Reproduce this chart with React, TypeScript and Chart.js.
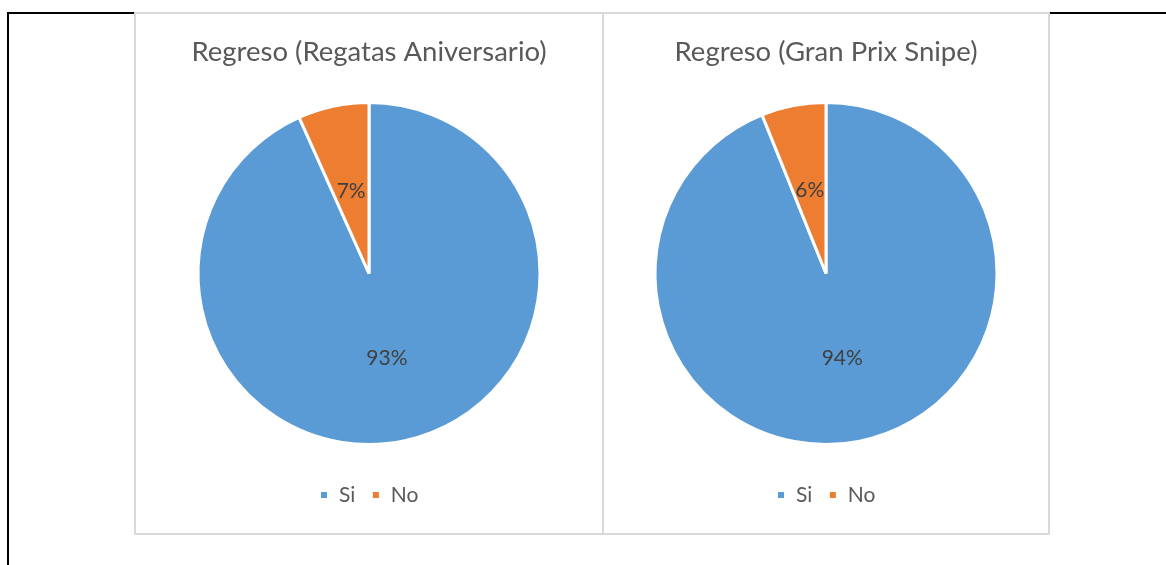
import React, { useEffect, useRef } from "react";
import { Chart, registerables } from "chart.js";

Chart.register(...registerables);

const CATEGORIES = ["Si", "No"];
const TITLE_LEFT = "Regreso (Regatas Aniversario)";
const TITLE_RIGHT = "Regreso (Gran Prix Snipe)";
const VALUES_LEFT = [93.3, 6.7];
const VALUES_RIGHT = [93.9, 6.1];
const COLORS = ["#5B9BD5", "#ED7D31"];

const FONT = "Lato, 'Open Sans', sans-serif";

const pctLabels = {
  id: "pctLabels",
  afterDatasetsDraw(chart: any) {
    const ctx = chart.ctx;
    const meta = chart.getDatasetMeta(0);
    const data = chart.data.datasets[0].data as number[];
    const total = data.reduce((a, b) => a + b, 0);
    ctx.save();
    ctx.font = `21px ${FONT}`;
    ctx.fillStyle = "#404040";
    ctx.textAlign = "center";
    ctx.textBaseline = "middle";
    meta.data.forEach((arc: any, i: number) => {
      const p = arc.tooltipPosition();
      ctx.fillText(Math.round((data[i] / total) * 100) + "%", p.x, p.y + 1);
    });
    ctx.restore();
  },
};

function PieChart({ title, values, left, width }: { title: string; values: number[]; left: number; width: number }) {
  const ref = useRef<HTMLCanvasElement | null>(null);
  useEffect(() => {
    if (!ref.current) return;
    const chart = new Chart(ref.current, {
      type: "pie",
      data: {
        labels: CATEGORIES,
        datasets: [
          {
            data: values,
            backgroundColor: COLORS,
            borderColor: "#ffffff",
            borderWidth: 3,
          },
        ],
      },
      options: {
        animation: false,
        responsive: false,
        radius: 171,
        layout: { padding: { top: 0, bottom: 17.5, left: 0, right: 0 } },
        plugins: {
          title: {
            display: true,
            text: title,
            color: "#595959",
            font: { family: FONT, size: 27.5, weight: "normal", lineHeight: 1.2 },
            padding: { top: 21.5, bottom: 10 },
          },
          legend: {
            position: "bottom",
            labels: {
              boxWidth: 9,
              boxHeight: 9,
              padding: 16,
              color: "#595959",
              font: { family: FONT, size: 21 },
            },
          },
          tooltip: { enabled: false },
        },
      } as any,
      plugins: [pctLabels],
    });
    return () => chart.destroy();
  }, [title, values]);
  return (
    <canvas
      ref={ref}
      width={width}
      height={519}
      style={{ position: "absolute", left, top: 14, width, height: 519 }}
    />
  );
}

export default function App() {
  return (
    <div style={{ position: "absolute", left: 0, top: 0, width: 1166, height: 565, background: "#fff", overflow: "hidden" }}>
      <div style={{ position: "absolute", left: 7, top: 12, width: 1159, height: 2, background: "#000" }} />
      <div style={{ position: "absolute", left: 7, top: 12, width: 2, height: 553, background: "#000" }} />
      <div
        style={{
          position: "absolute",
          left: 134,
          top: 12,
          width: 916,
          height: 523,
          border: "2px solid #d9d9d9",
          boxSizing: "border-box",
          background: "#fff",
        }}
      />
      <div style={{ position: "absolute", left: 602, top: 12, width: 2, height: 523, background: "#d9d9d9" }} />
      <PieChart title={TITLE_LEFT} values={VALUES_LEFT} left={136} width={466} />
      <PieChart title={TITLE_RIGHT} values={VALUES_RIGHT} left={604} width={444} />
    </div>
  );
}
